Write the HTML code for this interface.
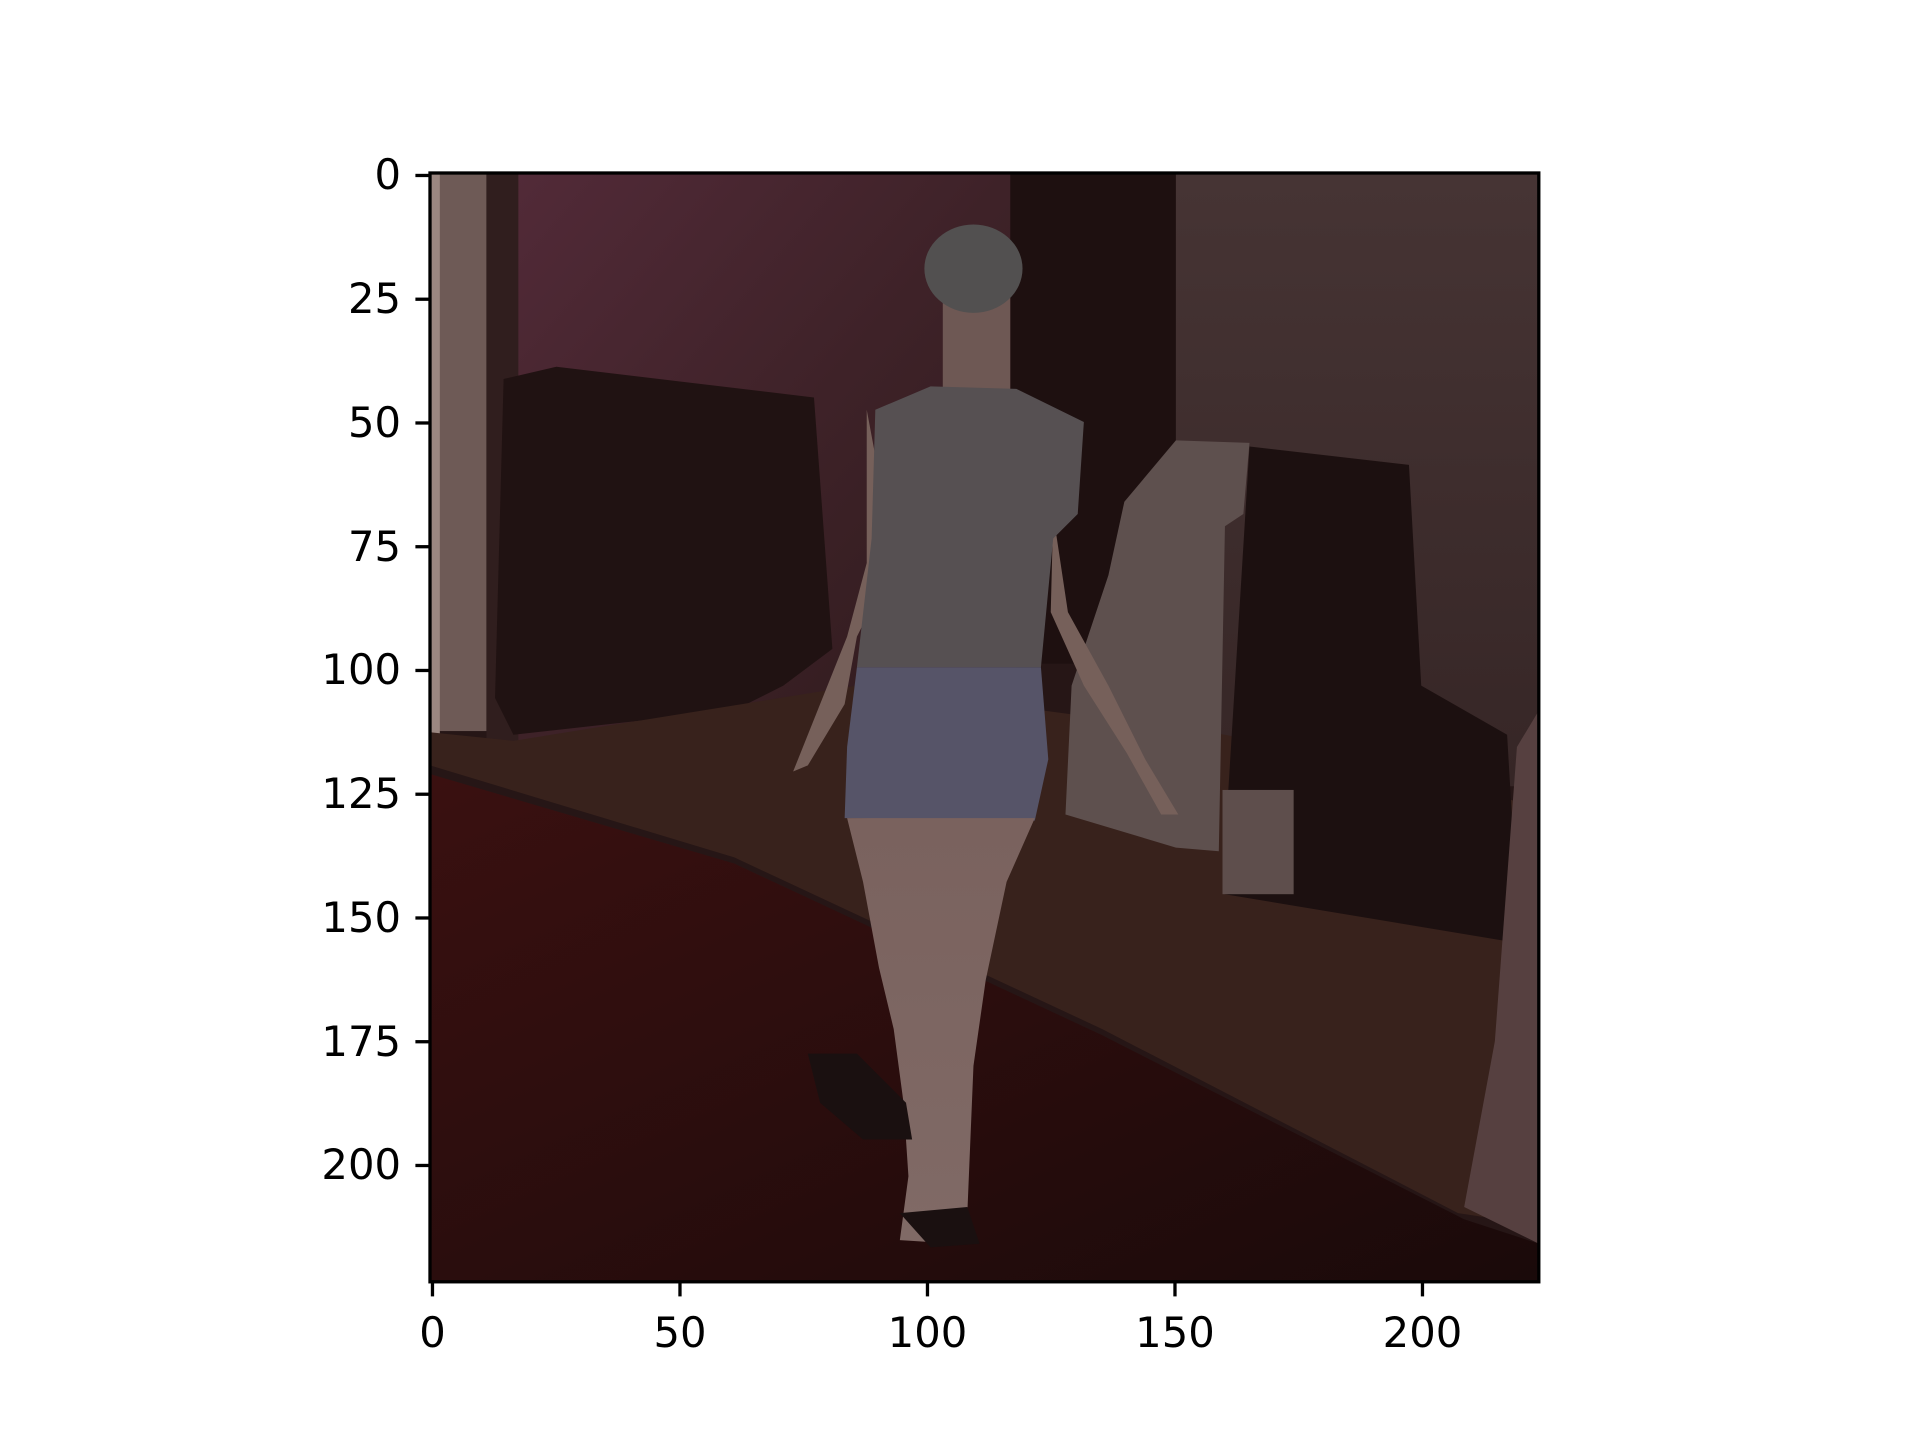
<!DOCTYPE html>
<html><head><meta charset="utf-8"><style>
html,body{margin:0;padding:0;background:#fff;}
#fig{position:relative;width:1920px;height:1440px;overflow:hidden;font-family:"DejaVu Sans","Liberation Sans",sans-serif;}
.tl{position:absolute;font-size:41.7px;color:#000;line-height:1;white-space:nowrap;}
</style></head><body>
<div id="fig">
<svg style="position:absolute;left:430px;top:173px" width="1109" height="1110" viewBox="352 142 904 905" preserveAspectRatio="none">
 <defs>
  <linearGradient id="wallL" x1="0" y1="0" x2="1" y2="1"><stop offset="0" stop-color="#522a38"/><stop offset="0.5" stop-color="#3e2228"/><stop offset="1" stop-color="#2e1a1c"/></linearGradient>
  <linearGradient id="wallR" x1="0" y1="0" x2="0" y2="1"><stop offset="0" stop-color="#463434"/><stop offset="1" stop-color="#362626"/></linearGradient>
  <linearGradient id="carpet" x1="0" y1="0" x2="1" y2="1"><stop offset="0" stop-color="#3a1010"/><stop offset="1" stop-color="#1a0a0a"/></linearGradient>
  <linearGradient id="leg" x1="0" y1="0" x2="0" y2="1"><stop offset="0" stop-color="#7a625e"/><stop offset="1" stop-color="#806a66"/></linearGradient>
 </defs>
 <rect x="352" y="142" width="904" height="905" fill="#261616"/>
 <rect x="420" y="142" width="410" height="480" fill="url(#wallL)"/>
 <rect x="825" y="142" width="140" height="400" fill="#1e1010"/>
 <rect x="960" y="142" width="296" height="500" fill="url(#wallR)"/>
 <rect x="352" y="142" width="46" height="455" fill="#6e5a56"/>
 <rect x="352" y="142" width="8" height="460" fill="#9a8680"/>
 <rect x="398" y="142" width="26" height="470" fill="#301e1e"/>
 <polygon points="412,310 455,300 665,325 680,530 640,560 600,580 420,600 405,570" fill="#201212"/>
 <polygon points="352,598 420,605 700,560 1000,600 1190,640 1256,660 1256,1000 1190,990 900,840 600,700 352,625" fill="#38221c"/>
 <polygon points="1020,365 1150,380 1160,560 1230,600 1240,770 1180,760 1060,740 1000,730 1000,690" fill="#1c1010"/>
 <polygon points="918,410 960,360 1020,362 1015,420 1000,430 995,695 960,692 870,665 875,560 905,470" fill="#5e504e"/>
 <rect x="998" y="645" width="58" height="85" fill="#5e4e4c"/>
 <polygon points="1238,610 1256,580 1256,1015 1195,985 1220,850" fill="#564040"/>
 <polygon points="352,632 600,705 900,845 1195,995 1256,1015 1256,1047 352,1047" fill="url(#carpet)"/>
 <g>
  <rect x="770" y="240" width="55" height="90" fill="#6e5854"/>
  <ellipse cx="795" cy="220" rx="40" ry="36" fill="#525050"/>
  <polygon points="708,335 708,460 692,520 648,630 660,625 690,575 700,520 720,480 722,410" fill="#76605a"/>
  <polygon points="860,420 872,500 905,560 935,620 962,665 948,665 920,615 885,560 858,500" fill="#76605a"/>
  <polygon points="715,335 760,316 830,318 885,345 880,420 860,440 850,545 700,545 712,440" fill="#565052"/>
  <polygon points="700,545 850,545 856,620 845,670 690,668 692,610" fill="#565468"/>
  <polygon points="692,668 845,668 822,720 805,800 795,870 790,990 782,1015 735,1012 742,960 738,900 730,840 718,790 705,720" fill="url(#leg)"/>
  <polygon points="660,860 700,860 740,900 745,930 705,930 670,900" fill="#1a1010"/>
  <polygon points="735,990 790,985 800,1015 760,1018" fill="#1a1010"/>
 </g>
</svg>
<svg id="axes" style="position:absolute;left:0;top:0" width="1920" height="1440"></svg>
</div>
<script>
const xTicks=[0,50,100,150,200];
const yTicks=[0,25,50,75,100,125,150,175,200];
const L=430,T=173,S=1108.8/224;
function X(v){return L+(v+0.5)*S;}
function Y(v){return T+(v+0.5)*S;}
const svg=document.getElementById('axes');
const fig=document.getElementById('fig');
const ns='http://www.w3.org/2000/svg';
const fr=document.createElementNS(ns,'rect');


fr.setAttribute('x',L);fr.setAttribute('y',T);fr.setAttribute('width',1108.8);fr.setAttribute('height',1108.8);
fr.setAttribute('fill','none');fr.setAttribute('stroke','#000');fr.setAttribute('stroke-width','3.3');
svg.appendChild(fr);
xTicks.forEach(v=>{
 const l=document.createElementNS(ns,'line');
 
 
 l.setAttribute('x1',X(v));l.setAttribute('x2',X(v));l.setAttribute('y1',T+1108.8);l.setAttribute('y2',T+1108.8+14.6);
 l.setAttribute('stroke','#000');l.setAttribute('stroke-width','3.3');svg.appendChild(l);
 const d=document.createElement('div');
 
 
 d.className='tl';d.textContent=v;d.style.left=X(v)+'px';d.style.top=(T+1108.8+30)+'px';d.style.transform='translateX(-50%)';
 fig.appendChild(d);
});
yTicks.forEach(v=>{
 const l=document.createElementNS(ns,'line');
 
 
 l.setAttribute('x1',L-14.6);l.setAttribute('x2',L);l.setAttribute('y1',Y(v));l.setAttribute('y2',Y(v));
 l.setAttribute('stroke','#000');l.setAttribute('stroke-width','3.3');svg.appendChild(l);
 const d=document.createElement('div');
 
 
 d.className='tl';d.textContent=v;d.style.right=(1920-(L-29))+'px';d.style.top=Y(v)+'px';d.style.transform='translateY(-50%)';
 fig.appendChild(d);
});
</script>
</body></html>
